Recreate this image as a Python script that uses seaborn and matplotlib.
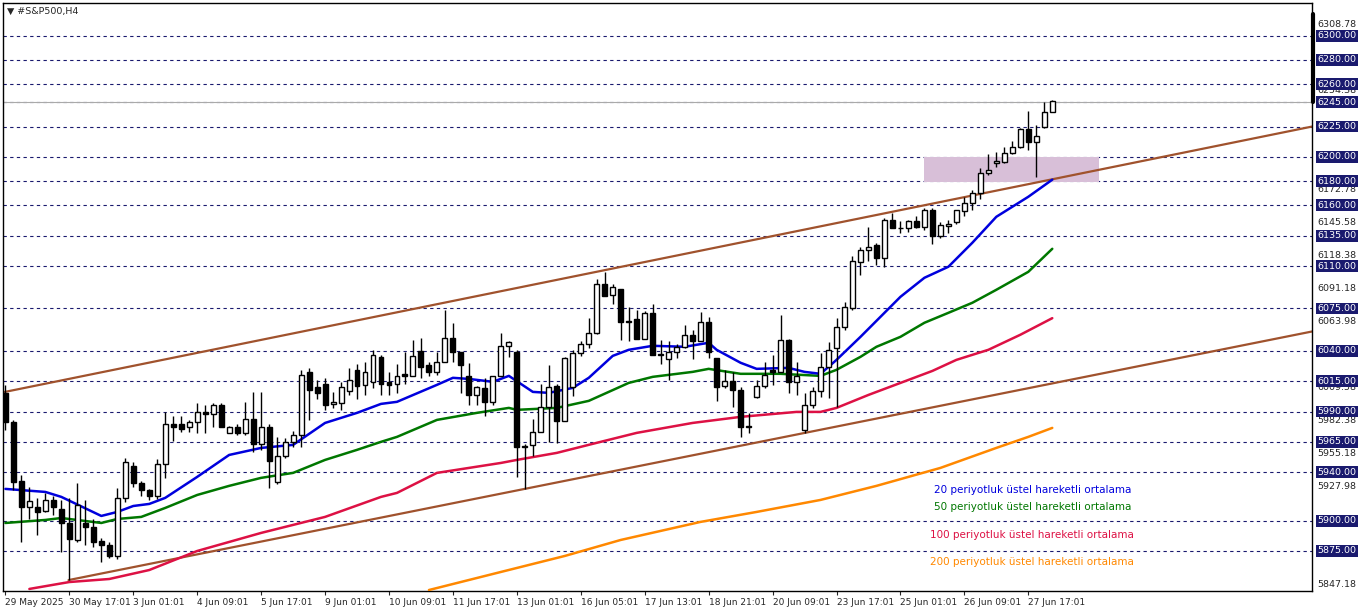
import numpy as np
import pandas as pd
import matplotlib
matplotlib.use("Agg")
import matplotlib.pyplot as plt
import matplotlib.transforms as mtransforms
from matplotlib.patches import Rectangle
import seaborn as sns

# ---- data ----
opens = [6005,5981,5933,5911,5911,5908,5917,5910,5898,5884,5898,5895,5883,5880,5871,5919,5945,5931,5925,5920,
         5947,5980,5980,5977,5981,5990,5988,5995,5972,5977,5972,5984,5963,5977,5932,5953,5965,5971,6023,6010,
         6013,5996,5997,6007,6024,6012,6014,6035,6014,6013,6021,6019,6040,6028,6023,6031,6051,6039,6019,6004,
         6009,5998,6019,6044,6039,5961,5962,5973,5994,6011,5982,6010,6038,6046,6055,6095,6086,6091,6065,6066,
         6050,6071,6037,6033,6039,6043,6053,6048,6064,6034,6011,6015,6008,5978,6002,6011,6024,6023,6049,6014,
         5975,5995,6007,6027,6042,6060,6075,6113,6123,6127,6117,6148,6141,6141,6147,6142,6156,6135,6143,6146,
         6155,6162,6170,6187,6195,6196,6203,6208,6223,6212,6225,6237]
closes = [5981,5932,5911,5916,5907,5917,5911,5898,5885,5913,5895,5882,5880,5871,5919,5948,5931,5925,5920,5947,
          5980,5977,5976,5981,5990,5988,5995,5977,5977,5972,5984,5963,5977,5949,5953,5965,5971,6020,6008,6005,
          5995,5998,6010,6016,6011,6023,6037,6013,6012,6019,6019,6036,6027,6023,6031,6051,6039,6028,6004,6010,
          5998,6019,6044,6047,5961,5961,5973,5994,6010,5982,6034,6038,6046,6055,6095,6085,6093,6064,6064,6050,
          6071,6037,6037,6039,6043,6053,6048,6064,6039,6010,6015,6008,5977,5977,6011,6020,6023,6049,6014,6019,
          5995,6007,6027,6041,6060,6076,6114,6123,6126,6117,6148,6141,6141,6147,6142,6156,6135,6144,6145,6156,
          6162,6170,6187,6189,6197,6203,6208,6223,6212,6217,6237,6246]
highs = [6012,5983,5938,5928,5919,5923,5920,5917,5919,5931,5917,5901,5886,5882,5927,5952,5948,5933,5926,5951,
         5990,5986,5986,5983,5997,5995,5997,5997,5978,5980,5998,6006,6006,5980,5969,5968,5974,6024,6026,6016,
         6018,6006,6014,6026,6029,6031,6041,6037,6023,6029,6039,6049,6051,6031,6039,6074,6063,6039,6030,6011,
         6018,6019,6055,6048,6041,5963,5984,6013,6028,6013,6035,6041,6048,6067,6099,6105,6095,6091,6076,6074,
         6073,6079,6049,6048,6046,6061,6057,6072,6068,6034,6024,6023,6010,5989,6016,6031,6037,6070,6050,6031,
         6005,6010,6038,6047,6067,6080,6118,6126,6142,6129,6150,6154,6147,6148,6151,6158,6158,6146,6148,6156,
         6167,6173,6191,6202,6204,6208,6213,6224,6238,6226,6245,6247]
lows = [5975,5925,5882,5901,5888,5907,5905,5874,5851,5882,5880,5878,5866,5869,5868,5915,5928,5920,5917,5918,
        5935,5966,5973,5973,5972,5972,5977,5977,5972,5971,5971,5957,5958,5927,5930,5952,5961,5961,5983,6000,
        5991,5993,5991,6004,6000,6004,6009,6004,6004,6005,6013,6019,6018,6019,6020,6031,6031,6005,5995,5995,
        5986,5995,6019,6035,5936,5926,5953,5973,5965,5964,5982,6003,6036,6042,6054,6085,6079,6049,6048,6050,
        6050,6037,6029,6016,6034,6042,6033,6048,6034,5999,6009,5994,5969,5972,6001,6009,6012,6023,6005,6004,
        5972,5993,6002,6001,5994,6057,6074,6103,6114,6111,6109,6141,6137,6138,6141,6140,6128,6133,6137,6145,
        6151,6156,6165,6185,6192,6195,6202,6207,6206,6183,6224,6237]

ema20_idx = [0,5,7,12,14,16,18,20,24,28,32,36,40,44,47,49,54,56,58,61,63,66,68,71,73,76,78,81,85,88,89,92,94,98,100,102,104,107,110,112,115,118,121,124,128,131]
ema20_val = [5926.2,5923.7,5919.6,5903.9,5907.2,5912.1,5913.8,5918.8,5936.1,5954.2,5960.0,5962.5,5980.6,5988.9,5996.3,5998.0,6012.0,6017.8,6016.9,6014.5,6019.4,6006.2,6005.4,6009.5,6017.8,6035.9,6040.9,6044.2,6043.4,6046.7,6040.9,6030.2,6025.2,6026.0,6022.7,6021.1,6032.6,6051.6,6071.4,6084.6,6100.3,6109.4,6129.2,6150.6,6167.1,6181.2]
ema50_idx = [0,5,7,12,14,17,20,24,28,32,36,40,44,47,49,54,59,63,64,69,73,78,81,86,88,92,97,102,104,107,109,112,115,118,121,124,128,131]
ema50_val = [5898.1,5900.6,5902.2,5898.1,5901.4,5903.1,5910.5,5921.2,5928.7,5935.3,5939.4,5950.1,5958.4,5965.0,5969.1,5983.1,5988.9,5993.0,5991.4,5993.0,5998.8,6013.6,6018.6,6022.7,6025.2,6021.1,6021.1,6019.4,6024.4,6035.1,6043.4,6051.6,6063.2,6071.4,6079.7,6090.4,6105.2,6124.2]
ema100_idx = [3,8,13,18,24,32,40,47,49,54,62,64,69,74,79,86,92,99,102,104,108,112,116,119,123,127,131]
ema100_val = [5843.7,5849.4,5851.9,5859.3,5875.0,5889.9,5903.1,5919.6,5922.9,5939.4,5947.6,5950.1,5955.9,5964.2,5972.4,5980.6,5985.6,5989.7,5989.7,5993.0,6003.7,6013.6,6023.5,6032.6,6040.9,6053.3,6067.0]
ema200_idx = [53,62,70,77,87,94,102,109,117,124,128,131]
ema200_val = [5842.8,5857.7,5870.9,5884.1,5899.0,5907.2,5917.1,5928.7,5943.5,5960.0,5969.1,5976.5]

upper_channel_idx = [-0.2, 163.5]
upper_channel_val = [6006.0, 6225.0]
lower_channel_idx = [7.9, 163.5]
lower_channel_val = [5851.0, 6056.0]
zone_idx = [114.9, 136.8]
zone_val = [6179.5, 6199.5]

level_lines = [6300,6280,6260,6245,6225,6200,6180,6160,6135,6110,6075,6040,6015,5990,5965,5940,5900,5875]
plain_labels = [6308.78,6254.38,6172.78,6145.58,6118.38,6091.18,6063.98,6036.78,6009.58,5982.38,5955.18,5927.98,5847.18]
current_price = 6245.0

xtick_idx = list(range(0,129,8))
xtick_labels = ["29 May 2025","30 May 17:01","3 Jun 01:01","4 Jun 09:01","5 Jun 17:01","9 Jun 01:01",
                "10 Jun 09:01","11 Jun 17:01","13 Jun 01:01","16 Jun 05:01","17 Jun 13:01","18 Jun 21:01",
                "20 Jun 09:01","23 Jun 17:01","25 Jun 01:01","26 Jun 09:01","27 Jun 17:01"]
legend_texts = ["20 periyotluk üstel hareketli ortalama","50 periyotluk üstel hareketli ortalama",
                "100 periyotluk üstel hareketli ortalama","200 periyotluk üstel hareketli ortalama"]
legend_colors = ["#0000dd","#007700","#dd1144","#ff8800"]
legend_y = [5925.4, 5911.3, 5888.2, 5866.0]

# ---- figure ----
sns.set_style("white")
plt.rcParams['font.family'] = ['DejaVu Sans']
fig = plt.figure(figsize=(13.62, 6.11), dpi=100)
ax = fig.add_axes([3/1362, 20/611, 1309/1362, 588/611])
ax.set_xlim(-0.3, 163.5)
ax.set_ylim(5842.0, 6326.9)

for lv in level_lines:
    ax.axhline(lv, color="#1a1a6e", lw=0.8, ls=(0, (3, 3)), zorder=1)
ax.axhline(current_price, color="#aaaaaa", lw=0.8, zorder=1)

ax.add_patch(Rectangle((zone_idx[0], zone_val[0]), zone_idx[1]-zone_idx[0], zone_val[1]-zone_val[0],
                       facecolor="#d8bfd8", edgecolor="none", zorder=1.5))

ax.plot(upper_channel_idx, upper_channel_val, color="#a0522d", lw=1.6, zorder=2)
ax.plot(lower_channel_idx, lower_channel_val, color="#a0522d", lw=1.6, zorder=2)

for idx, val, col in [(ema200_idx, ema200_val, "#ff8800"), (ema100_idx, ema100_val, "#dd1144"),
                      (ema50_idx, ema50_val, "#007700"), (ema20_idx, ema20_val, "#0000dd")]:
    sns.lineplot(x=idx, y=val, ax=ax, color=col, lw=1.8, zorder=3)

df = pd.DataFrame({"o": opens, "c": closes, "h": highs, "l": lows})
df["i"] = np.arange(len(df))
ax.vlines(df["i"], df["l"], df["h"], color="black", lw=1.0, zorder=4)
up = df["c"] >= df["o"]
bot = np.minimum(df["o"], df["c"])
hgt = np.maximum(np.abs(df["c"] - df["o"]), 0.6)
ax.bar(df["i"][up], hgt[up], bottom=bot[up], width=0.62, color="white", edgecolor="black", lw=1.0, zorder=5)
ax.bar(df["i"][~up], hgt[~up], bottom=bot[~up], width=0.62, color="black", edgecolor="black", lw=1.0, zorder=5)

# x ticks
ax.set_xticks(xtick_idx)
ax.set_xticklabels(xtick_labels, fontsize=6.5, ha="left")
ax.tick_params(axis="x", length=3, pad=2, direction="out", bottom=True)
ax.set_yticks([])

tr = mtransforms.blended_transform_factory(ax.transAxes, ax.transData)
for v in plain_labels:
    ax.text(1.004, v, f"{v:.2f}", transform=tr, fontsize=6.8, va="center", ha="left", clip_on=False, zorder=6)
for v in level_lines:
    ax.text(1.004, v, f"{v:.2f}", transform=tr, fontsize=6.8, va="center", ha="left", color="white",
            clip_on=False, zorder=7, bbox=dict(boxstyle="square,pad=0.15", fc="#1a1a6e", ec="none"))
ax.plot([1.001, 1.001], [6245, 6318], transform=tr, color="black", lw=3, clip_on=False)

for t, c, y in zip(legend_texts, legend_colors, legend_y):
    ax.text(128.5, y, t, color=c, fontsize=7.5, ha="center", va="center", zorder=6)

ax.text(0.003, 0.993, "▼ #S&P500,H4", transform=ax.transAxes, fontsize=6.8, va="top", ha="left")
for s in ax.spines.values():
    s.set_color("black"); s.set_linewidth(1.0)

fig.savefig("out.png", dpi=100, facecolor="white")
